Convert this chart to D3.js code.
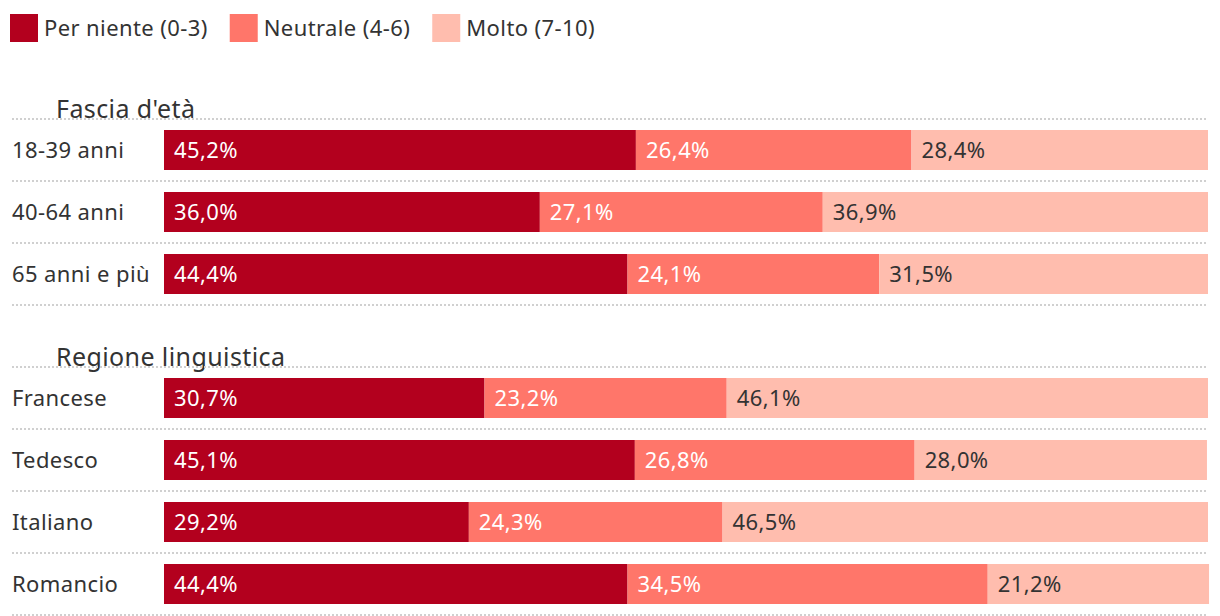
<!DOCTYPE html>
<html><head><meta charset="utf-8">
<script src="https://cdn.jsdelivr.net/npm/d3@7"></script>
<style>
html,body{margin:0;padding:0;background:#fff;}
svg text{font-family:"Noto Sans",sans-serif;letter-spacing:0.4px;}
</style></head>
<body><svg id="c" width="1220" height="616"></svg>
<script>
const seriesNames = ["Per niente (0-3)", "Neutrale (4-6)", "Molto (7-10)"];
const colors = ["#b3001e", "#ff766a", "#ffbdae"];
const labelColors = ["#ffffff", "#ffffff", "#333333"];
const groupTitles = ["Fascia d'età", "Regione linguistica"];
const categories = ["18-39 anni", "40-64 anni", "65 anni e più", "Francese", "Tedesco", "Italiano", "Romancio"];
const categoryGroup = [0, 0, 0, 1, 1, 1, 1];
const perNiente = [45.2, 36.0, 44.4, 30.7, 45.1, 29.2, 44.4];
const neutrale = [26.4, 27.1, 24.1, 23.2, 26.8, 24.3, 34.5];
const molto = [28.4, 36.9, 31.5, 46.1, 28.0, 46.5, 21.2];

const svg = d3.select("#c");
const fmt = v => d3.format(".1f")(v).replace(".", ",") + "%";

// legend
let lx = 10;
const leg = svg.append("g");
seriesNames.forEach((n, i) => {
  const g = leg.append("g").attr("transform", `translate(${lx},14)`);
  g.append("rect").attr("width", 28).attr("height", 28).attr("fill", colors[i]);
  const t = g.append("text").attr("x", 34).attr("y", 14).attr("dy", "0.35em").attr("font-size", 22).attr("fill", "#333").text(n);
  lx += 34 + t.node().getComputedTextLength() + 22;
});

// slots: one title slot per group, then one per category
const slots = [];
let prev = -1;
categories.forEach((c, i) => {
  if (categoryGroup[i] !== prev) { slots.push({type: "title", g: categoryGroup[i]}); prev = categoryGroup[i]; }
  slots.push({type: "row", i});
});
const y = d3.scaleBand().domain(d3.range(slots.length))
  .range([57, 57 + 62 * slots.length]).paddingInner(22 / 62).paddingOuter(11 / 62);
const x = d3.scaleLinear().domain([0, 100]).range([164, 1208]);

const stackData = categories.map((c, i) => ({a: perNiente[i], b: neutrale[i], c2: molto[i]}));
const stack = d3.stack().keys(["a", "b", "c2"])(stackData);

const dotted = yy => svg.append("line").attr("x1", 12).attr("x2", 1208).attr("y1", yy).attr("y2", yy)
    .attr("stroke", "#d0d0d0").attr("stroke-width", 2).attr("stroke-dasharray", "2,2");

slots.forEach((s, k) => {
  const top = y(k);
  const bw = y.bandwidth();
  if (s.type === "title") {
    svg.append("text").attr("x", 56).attr("y", top + bw + 10).attr("font-size", 25).attr("fill", "#333").text(groupTitles[s.g]);
    return;
  }
  dotted(top - 11);
  dotted(top + bw + 11);
  const i = s.i;
  svg.append("text").attr("x", 12).attr("y", top + bw / 2).attr("dy", "0.35em").attr("font-size", 22).attr("fill", "#333").text(categories[i]);
  stack.forEach((layer, j) => {
    const d = layer[i];
    svg.append("rect").attr("x", x(d[0])).attr("y", top).attr("width", x(d[1]) - x(d[0])).attr("height", bw).attr("fill", colors[j]);
    svg.append("text").attr("x", x(d[0]) + 10).attr("y", top + bw / 2).attr("dy", "0.35em").attr("font-size", 22)
      .attr("fill", labelColors[j]).text(fmt(d[1] - d[0]));
  });
});
</script></body></html>
